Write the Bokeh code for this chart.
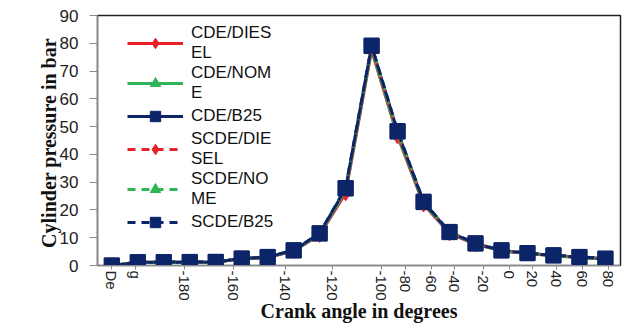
from bokeh.plotting import figure
from bokeh.models import Range1d, FixedTicker, Legend, LegendItem
from bokeh.embed import file_html
from bokeh.resources import INLINE

# ---- data ----
point_index = list(range(20))
cde_diesel  = [0, 1.1, 1.2, 1.2, 1.3, 2.4, 2.9, 5.2, 11.0, 26.0, 77.5, 46.5, 22.0, 11.6, 7.6, 5.3, 4.3, 3.5, 2.9, 2.3]
cde_nome    = [0, 1.1, 1.2, 1.2, 1.3, 2.4, 3.0, 5.3, 11.2, 26.8, 78.0, 47.0, 22.3, 11.8, 7.7, 5.3, 4.3, 3.5, 2.9, 2.3]
cde_b25     = [0, 1.2, 1.2, 1.2, 1.3, 2.5, 3.0, 5.4, 11.5, 27.7, 79.0, 48.2, 22.8, 12.0, 7.9, 5.4, 4.4, 3.6, 3.0, 2.4]
scde_diesel = [0, 1.2, 1.2, 1.2, 1.3, 2.5, 3.0, 5.3, 11.3, 27.0, 78.5, 47.6, 22.5, 11.9, 7.8, 5.4, 4.4, 3.6, 3.0, 2.4]
scde_nome   = [0, 1.2, 1.2, 1.2, 1.3, 2.5, 3.0, 5.4, 11.4, 27.3, 78.8, 48.0, 22.7, 12.0, 7.9, 5.4, 4.4, 3.6, 3.0, 2.4]
scde_b25    = [0, 1.2, 1.2, 1.3, 1.3, 2.5, 3.1, 5.5, 11.6, 27.9, 79.2, 48.4, 23.0, 12.1, 8.0, 5.5, 4.5, 3.7, 3.1, 2.5]

series_names = ["CDE/DIES\nEL", "CDE/NOM\nE", "CDE/B25", "SCDE/DIE\nSEL", "SCDE/NO\nME", "SCDE/B25"]
x_tick_labels = ["De", "g", "-180", "-160", "-140", "-120", "-100", "-80", "-60", "-40",
                 "-20", "0", "20", "40", "60", "80"]
x_tick_pos = [0.0, 0.9, 2.8, 4.7, 6.7, 8.5, 10.4, 11.3, 12.3, 13.2, 14.3, 15.3, 16.2, 17.1, 18.1, 19.1]
y_ticks = [0, 10, 20, 30, 40, 50, 60, 70, 80, 90]

RED, GREEN, NAVY = "#e8202a", "#2fb457", "#0c2468"

p = figure(width=625, height=324, output_backend="svg", toolbar_location=None,
           x_range=Range1d(-0.55, 19.58), y_range=Range1d(0, 90),
           min_border_left=97, min_border_right=5, min_border_top=15, min_border_bottom=59)
p.background_fill_color = "white"
p.border_fill_color = "white"
p.grid.visible = False
p.outline_line_color = "#222222"
p.outline_line_width = 1.5

styles = [
    (cde_diesel, RED, "diamond", 15, "solid"),
    (cde_nome, GREEN, "triangle", 13, "solid"),
    (cde_b25, NAVY, "square", 15, "solid"),
    (scde_diesel, RED, "diamond", 15, "8 6"),
    (scde_nome, GREEN, "triangle", 13, "8 6"),
    (scde_b25, NAVY, "square", 15, "8 6"),
]
items = []
for (vals, col, mk, sz, dash), name in zip(styles, series_names):
    l = p.line(point_index, vals, line_color=col, line_width=3, line_dash=dash)
    s = p.scatter(point_index, vals, marker=mk, size=sz, fill_color=col, line_color=col)
    items.append(LegendItem(label=name, renderers=[l, s]))

legend = Legend(items=items, location=(30, 30), border_line_color=None,
                background_fill_alpha=0.0, label_text_font="Liberation Sans",
                label_text_font_size="17px", label_text_color="#111111",
                glyph_width=56, glyph_height=26, spacing=0, padding=0,
                label_standoff=8, label_height=18, margin=0)
p.add_layout(legend)

# axes
for ax in (p.xaxis[0], p.yaxis[0]):
    ax.axis_line_color = "#8a8a8a"
    ax.axis_line_width = 1.2
    ax.major_tick_line_color = "#8a8a8a"
    ax.minor_tick_line_color = None
    ax.major_label_text_font = "Liberation Sans"
    ax.major_label_text_color = "#222222"
    ax.axis_label_text_font = "Liberation Serif"
    ax.axis_label_text_font_style = "bold"
    ax.axis_label_text_color = "#111111"
    ax.axis_label_text_font_size = "20px"

p.yaxis.ticker = FixedTicker(ticks=y_ticks)
p.yaxis.major_label_text_font_size = "17px"
p.yaxis.major_tick_out = 8
p.yaxis.major_tick_in = 0
p.yaxis.major_label_standoff = 11
p.yaxis.axis_label = "Cylinder pressure  in bar"
p.yaxis.axis_label_standoff = -3

p.xaxis.ticker = FixedTicker(ticks=x_tick_pos)
p.xaxis.major_label_overrides = {t: lab for t, lab in zip(x_tick_pos, x_tick_labels)}
p.xaxis.major_label_orientation = "vertical"
p.xaxis.major_label_text_font_size = "15px"
p.xaxis.major_tick_out = 4
p.xaxis.major_tick_in = 0
p.xaxis.major_label_standoff = 1
p.xaxis.axis_label = "Crank angle in degrees"
p.xaxis.axis_label_standoff = -4

open("out.html", "w").write(file_html(p, INLINE))
